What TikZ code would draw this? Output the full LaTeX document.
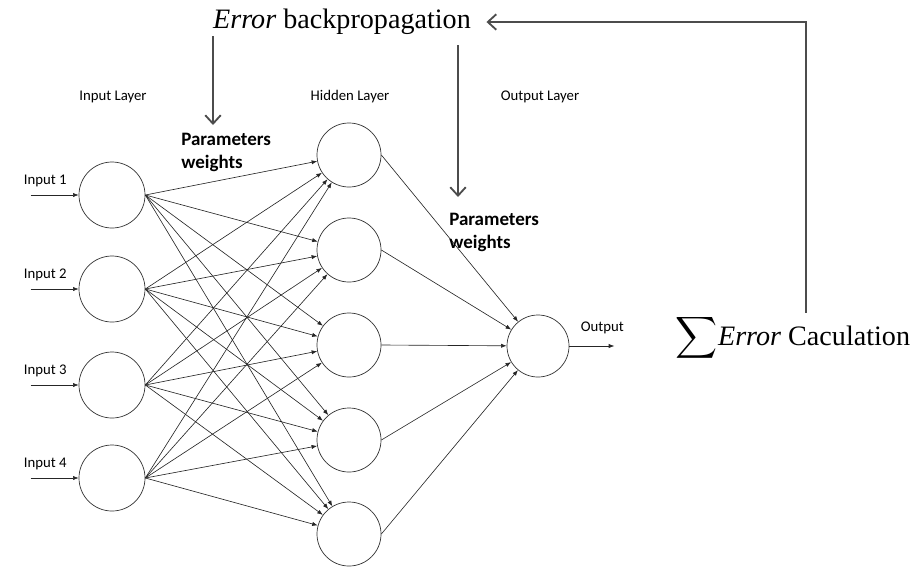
\documentclass[tikz,border=0pt]{standalone}
\usepackage{exscale}
\usepackage{fontspec}
\setmainfont{Liberation Serif}
\setsansfont{Carlito}
\usetikzlibrary{arrows.meta, positioning}

\begin{document}
\begin{tikzpicture}[x=0.025cm, y=-0.025cm,
  neuron/.style={draw=black!80, circle, line width=0.5pt, inner sep=0pt},
  link/.style={draw=black!85, line width=0.45pt, -{Latex[length=4pt,width=3pt]}},
  errarrow/.style={draw=black!70, line width=1.3pt, -{Straight Barb[length=6pt,width=11pt]}},
  lbl/.style={font=\sffamily\fontsize{10.5}{12}\selectfont, inner sep=0pt},
  parlbl/.style={font=\sffamily\bfseries\fontsize{13.5}{16.5}\selectfont, align=left, inner sep=0pt},
  bigtxt/.style={font=\fontsize{20}{24}\selectfont, inner sep=1pt}
]
  \useasboundingbox (0,0) rectangle (918,567);

  % layers
  \foreach \i/\y in {1/195, 2/289, 3/385, 4/478}
    \node[neuron, minimum size=1.65cm] (in\i) at (112,\y) {};
  \foreach \j/\y in {1/155, 2/250, 3/345, 4/440, 5/534}
    \node[neuron, minimum size=1.6cm] (hid\j) at (349,\y) {};
  \node[neuron, minimum size=1.55cm] (out) at (538,346) {};

  \node[lbl] (inlayer) at (113,97) {Input Layer};
  \node[lbl] (hidlayer) at (350,97) {Hidden Layer};
  \node[lbl] (outlayer) at (540,97) {Output Layer};

  % inputs
  \foreach \i in {1,...,4} {
    \coordinate (src\i) at ([xshift=-48*0.025cm]in\i.west);
    \node[lbl, anchor=south west] (inlbl\i) at ([xshift=-7*0.025cm, yshift=8*0.025cm]src\i) {Input \i};
    \draw[link] (src\i) -- (in\i.west);
  }

  % connections
  \foreach \i in {1,...,4}
    \foreach \j in {1,...,5}
      \draw[link] (in\i.east) -- (hid\j);
  \foreach \j in {1,...,5}
    \draw[link] (hid\j.east) -- (out);

  \coordinate (res) at ([xshift=45*0.025cm]out.east);
  \draw[link] (out.east) -- (res);
  \node[lbl, anchor=south] (outlbl) at ([xshift=-12*0.025cm, yshift=12*0.025cm]res) {Output};

  % error path
  \node[bigtxt] (bp) at (342,22) {\textit{Error} backpropagation};
  \node[bigtxt] (calc) at (793,338) {$\displaystyle\sum$\textit{Error} Caculation};
  \coordinate (turn) at (806,22);
  \draw[errarrow, shorten >=14*0.025cm] (turn |- calc.north) -- (turn) -- (bp.east);

  \coordinate (p1top) at (213,36);
  \coordinate (p1) at (213,125);
  \coordinate (p2top) at (458,45);
  \coordinate (p2) at (458,197);
  \draw[errarrow] (p1top) -- (p1);
  \draw[errarrow] (p2top) -- (p2);

  \node[parlbl, anchor=north west] (par1) at (181,133) {Parameters\\weights};
  \node[parlbl, anchor=north west] (par2) at (449,213) {Parameters\\weights};
\end{tikzpicture}
\end{document}
